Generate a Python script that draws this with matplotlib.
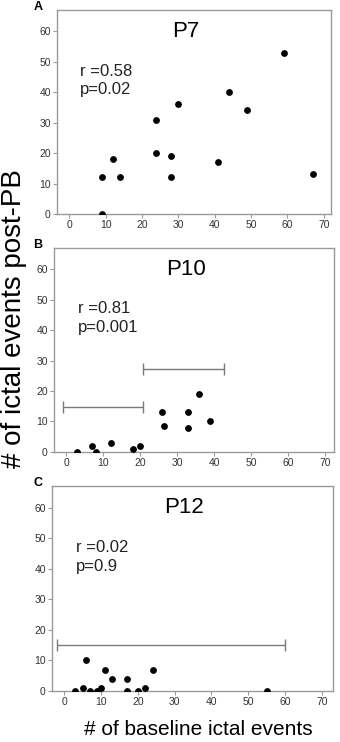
import matplotlib.pyplot as plt

# panel A - P7
p7_base = [9, 9, 12, 14, 24, 24, 28, 28, 30, 41, 44, 49, 59, 67]
p7_post = [12, 0, 18, 12, 31, 20, 19, 12, 36, 17, 40, 34, 53, 13]

# panel B - P10
p10_base = [3, 7, 8, 12, 18, 20, 26, 26.4, 33, 33, 36, 39]
p10_post = [0, 2, 0, 3, 1, 2, 13, 8.5, 13, 8, 19, 10]
p10_bar_y = [14.6, 27.2]
p10_bar_lo = [-1, 20.8]
p10_bar_hi = [20.8, 42.7]

# panel C - P12
p12_base = [3, 5, 6, 7, 9, 10, 11, 13, 17, 17, 20, 22, 24, 55]
p12_post = [0, 1, 10, 0, 0, 1, 7, 4, 4, 0, 0, 1, 7, 0]
p12_bar_y = [15]
p12_bar_lo = [-2]
p12_bar_hi = [60]

titles = ["P7", "P10", "P12"]
letters = ["A", "B", "C"]
stats = ["r =0.58\np=0.02", "r =0.81\np=0.001", "r =0.02\np=0.9"]

plt.rcParams['font.family'] = ['Liberation Sans', 'DejaVu Sans']
fig = plt.figure(figsize=(3.4, 7.42), dpi=100)

# axes rectangles [left, bottom, width, height] in figure fractions
rects = [
    [0.168, 0.7116, 0.806, 0.275],
    [0.159, 0.391, 0.824, 0.275],
    [0.153, 0.0687, 0.826, 0.276],
]
data = [
    (p7_base, p7_post, [], [], []),
    (p10_base, p10_post, p10_bar_y, p10_bar_lo, p10_bar_hi),
    (p12_base, p12_post, p12_bar_y, p12_bar_lo, p12_bar_hi),
]
xlims = [(-3.3, 72), (-3.3, 72.5), (-3.3, 73)]

grey = "#9a9a9a"
for i in range(3):
    ax = fig.add_axes(rects[i])
    xs, ys, by, blo, bhi = data[i]
    ax.scatter(xs, ys, s=15, color="black", zorder=3)
    for y, lo, hi in zip(by, blo, bhi):
        ax.errorbar([(lo + hi) / 2], [y], xerr=[[(hi - lo) / 2], [(hi - lo) / 2]],
                    fmt="none", ecolor="#7a7a7a", elinewidth=1.0,
                    capsize=4, capthick=1.0)
    ax.set_xlim(*xlims[i])
    ax.set_ylim(0, 67)
    ax.set_xticks(range(0, 71, 10))
    ax.set_yticks(range(0, 61, 10))
    for sp in ax.spines.values():
        sp.set_color(grey)
        sp.set_linewidth(1.0)
    ax.tick_params(direction="out", length=3, width=0.8, color=grey,
                   labelsize=7.5, labelcolor="#333333", pad=1.5)
    ax.text(0.47, 0.945, titles[i], transform=ax.transAxes, ha="center",
            va="top", fontsize=16)
    ax.text(0.085, 0.655, stats[i], transform=ax.transAxes, ha="left",
            va="center", fontsize=12, linespacing=1.3, color="#222222")
    fig.text(0.098, rects[i][1] + rects[i][3] + 0.004, letters[i],
             fontsize=9, fontweight="bold", ha="left", va="center")

fig.text(0.042, 0.571, "# of ictal events post-PB", rotation=90,
         ha="center", va="center", fontsize=20)
fig.text(0.583, 0.004, "# of baseline ictal events", ha="center",
         va="bottom", fontsize=15)

fig.savefig("out.png", dpi=100)
